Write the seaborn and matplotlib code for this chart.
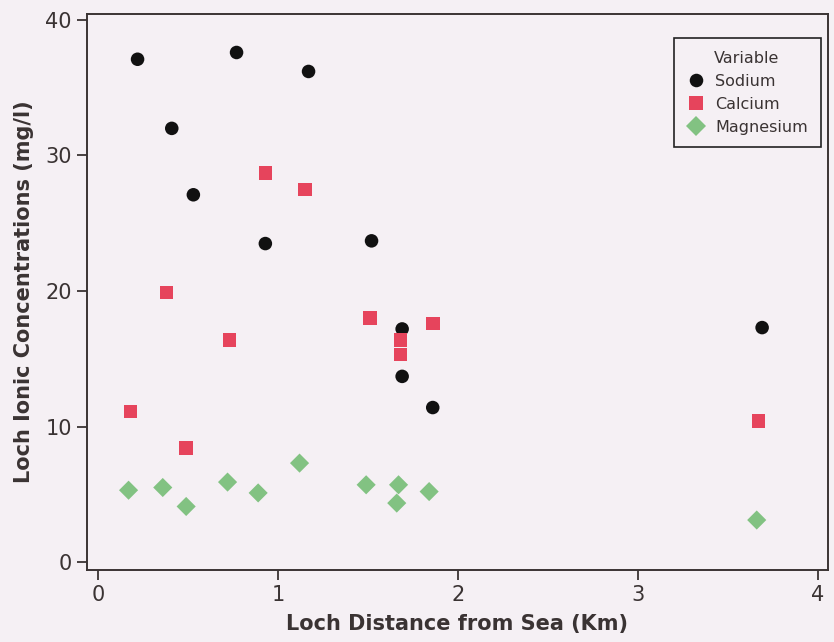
import matplotlib
matplotlib.use("Agg")
import matplotlib.pyplot as plt
import seaborn as sns
import pandas as pd

# Data
sodium_x = [0.22, 0.77, 1.17, 0.41, 0.53, 0.93, 1.52, 1.69, 1.69, 1.86, 3.69]
sodium_y = [37.1, 37.6, 36.2, 32.0, 27.1, 23.5, 23.7, 17.2, 13.7, 11.4, 17.3]
calcium_x = [0.18, 0.38, 0.49, 0.73, 0.93, 1.15, 1.51, 1.68, 1.68, 1.86, 3.67]
calcium_y = [11.1, 19.9, 8.4, 16.4, 28.7, 27.5, 18.0, 16.4, 15.3, 17.6, 10.4]
magnesium_x = [0.17, 0.36, 0.49, 0.72, 0.89, 1.12, 1.49, 1.67, 1.66, 1.84, 3.66]
magnesium_y = [5.3, 5.5, 4.1, 5.9, 5.1, 7.3, 5.7, 5.7, 4.35, 5.2, 3.1]
variables = ["Sodium", "Calcium", "Magnesium"]
x_ticks = [0, 1, 2, 3, 4]
y_ticks = [0, 10, 20, 30, 40]

df = pd.concat([
    pd.DataFrame({"x": sodium_x, "y": sodium_y, "Variable": "Sodium"}),
    pd.DataFrame({"x": calcium_x, "y": calcium_y, "Variable": "Calcium"}),
    pd.DataFrame({"x": magnesium_x, "y": magnesium_y, "Variable": "Magnesium"}),
])

bg = "#f5f0f4"
txt = "#3a3333"
sns.set_theme(style="ticks")
plt.rcParams["font.family"] = ["DejaVu Sans"]

fig = plt.figure(figsize=(8.34, 6.42), dpi=100, facecolor=bg)
ax = fig.add_axes([0.1043, 0.1121, 0.8885, 0.8661], facecolor=bg)

palette = {"Sodium": "#111111", "Calcium": "#e6445c", "Magnesium": "#82c282"}
markers = {"Sodium": "o", "Calcium": "s", "Magnesium": "D"}
sns.scatterplot(data=df, x="x", y="y", hue="Variable", style="Variable",
                hue_order=variables, style_order=variables,
                palette=palette, markers=markers, s=95, linewidth=0, ax=ax)

ax.set_xlim(-0.061, 4.056)
ax.set_ylim(-0.59, 40.44)
ax.set_xticks(x_ticks)
ax.set_yticks(y_ticks)
ax.tick_params(axis="both", labelsize=15, colors=txt, length=7, width=1.3,
               direction="out", pad=4)
for sp in ax.spines.values():
    sp.set_visible(True)
    sp.set_color(txt)
    sp.set_linewidth(1.4)

ax.set_xlabel("Loch Distance from Sea (Km)", fontsize=15, fontweight="bold",
              color=txt, labelpad=6)
ax.set_ylabel("Loch Ionic Concentrations (mg/l)", fontsize=15, fontweight="bold",
              color=txt, labelpad=8)

leg = ax.legend(title="Variable", loc="upper right", bbox_to_anchor=(0.99, 0.957),
                fontsize=11.5, title_fontsize=11.5, frameon=True, fancybox=False,
                edgecolor="#222222", facecolor=bg, framealpha=1,
                handlelength=1.2, handletextpad=0.6, borderpad=0.8,
                labelspacing=0.5, borderaxespad=0)
leg.get_frame().set_linewidth(1.2)
for t in leg.get_texts():
    t.set_color(txt)
leg.get_title().set_color(txt)

fig.savefig("out.png", dpi=100, facecolor=bg)
